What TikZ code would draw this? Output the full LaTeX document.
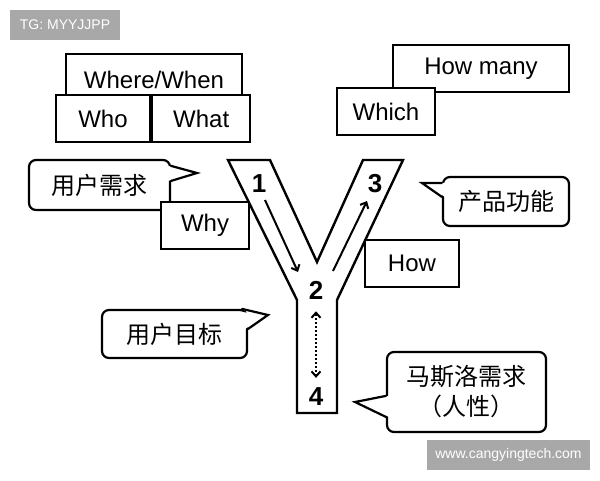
\documentclass[tikz,border=0pt]{standalone}
\usepackage{fontspec}
\setmainfont{Liberation Sans}
\newfontfamily\cjk{Noto Sans CJK SC}
\usepackage{xcolor}
\usetikzlibrary{arrows.meta,positioning}
\definecolor{wmgray}{RGB}{168,168,168}
\tikzstyle{wbox} = [rectangle, draw, line width=2.2pt, fill=white, inner sep=0pt, font=\fontsize{24}{28}\selectfont]
\tikzstyle{bubble} = [rectangle, draw, line width=2.2pt, fill=white, rounded corners=7pt, inner sep=0pt, align=center, font=\cjk\fontsize{24}{30}\selectfont]
\tikzstyle{tail} = [line width=2.2pt, line cap=round]
\tikzstyle{num} = [inner sep=0pt, font=\bfseries\fontsize{26}{28}\selectfont]
\tikzstyle{tag} = [rectangle, fill=wmgray, text=white, inner sep=0pt, font=\fontsize{14}{16}\selectfont]

\begin{document}
\begin{tikzpicture}[x=1pt, y=-1pt, >={Straight Barb[length=5pt,width=9pt]}]
	\useasboundingbox (0,0) rectangle (600,480);
	% watermarks
	\node[tag, minimum width=110pt, minimum height=30pt] (tg) at (65,25) {TG: MYYJJPP};
	\node[tag, minimum width=163pt, minimum height=30pt] (site) at (508.5,455) {www.cangyingtech.com};
	% question boxes
	\node[wbox, minimum width=176pt, minimum height=41pt, text height=27pt, text depth=0pt] (where) at (154,74.5) {Where/When};
	\node[wbox, minimum width=94pt, minimum height=47pt] (who) at (103,118.5) {Who};
	\node[wbox, minimum width=98pt, minimum height=47pt, right=0pt of who] (what) {What};
	\node[wbox, minimum width=176pt, minimum height=47pt] (howmany) at (481,68.5) {How many};
	\node[wbox, minimum width=98pt, minimum height=47pt] (which) at (386,111.5) {Which};
	% callouts
	\node[bubble, minimum width=141pt, minimum height=50pt] (need) at (99.5,185) {用户需求};
	\coordinate (needtip) at (197,173);
	\fill[white] ([xshift=-3pt,yshift=-7pt]need.north east) -- (needtip) -- ([xshift=-3pt,yshift=-22pt]need.north east) -- cycle;
	\draw[tail] ([yshift=-7pt]need.north east) -- (needtip) -- ([yshift=-22pt]need.north east);
	\node[bubble, minimum width=126pt, minimum height=49pt] (func) at (506,201.5) {产品功能};
	\coordinate (functip) at (422,183);
	\fill[white] ([xshift=3pt,yshift=-7pt]func.north west) -- (functip) -- ([xshift=3pt,yshift=-21pt]func.north west) -- cycle;
	\draw[tail] ([yshift=-7pt]func.north west) -- (functip) -- ([yshift=-21pt]func.north west);
	\node[bubble, minimum width=145pt, minimum height=48pt] (goal) at (174.5,334) {用户目标};
	\coordinate (goaltip) at (268,315);
	\fill[white] ([xshift=-7pt,yshift=-3pt]goal.north east) -- (goaltip) -- ([xshift=-3pt,yshift=-20pt]goal.north east) -- cycle;
	\draw[tail] ([xshift=-6pt]goal.north east) -- (goaltip) -- ([yshift=-20pt]goal.north east);
	\node[bubble, minimum width=159pt, minimum height=80pt] (maslow) at (466.5,392) {马斯洛需求\\（人性）};
	\coordinate (maslowtip) at (355,402);
	\fill[white] ([xshift=3pt,yshift=-45pt]maslow.north west) -- (maslowtip) -- ([xshift=3pt,yshift=-66pt]maslow.north west) -- cycle;
	\draw[tail] ([yshift=-45pt]maslow.north west) -- (maslowtip) -- ([yshift=-66pt]maslow.north west);
	% the Y
	\draw[line width=2.4pt] (228,160) -- (270,160) -- (317,262) -- (363,160) -- (403,160) -- (337,300) -- (337,413) -- (297,413) -- (297,300) -- cycle;
	\node[wbox, minimum width=88pt, minimum height=47pt] (why) at (205,225.5) {Why};
	\node[wbox, minimum width=94pt, minimum height=47pt] (how) at (412,263.5) {How};
	\node[num] (n1) at (259,184) {1};
	\node[num] (n2) at (316,290) {2};
	\node[num] (n3) at (375,184) {3};
	\node[num] (n4) at (316,397) {4};
	\coordinate (s12) at (265,200);
	\coordinate (e12) at (298,272);
	\coordinate (s23) at (333,271);
	\coordinate (e23) at (367,201);
	\draw[->, line width=2pt] (s12) -- (e12);
	\draw[->, line width=2pt] (s23) -- (e23);
	\draw[<->, dotted, line width=2pt, shorten <=12pt, shorten >=10pt] (n2.south) -- (n4.north);
\end{tikzpicture}
\end{document}
